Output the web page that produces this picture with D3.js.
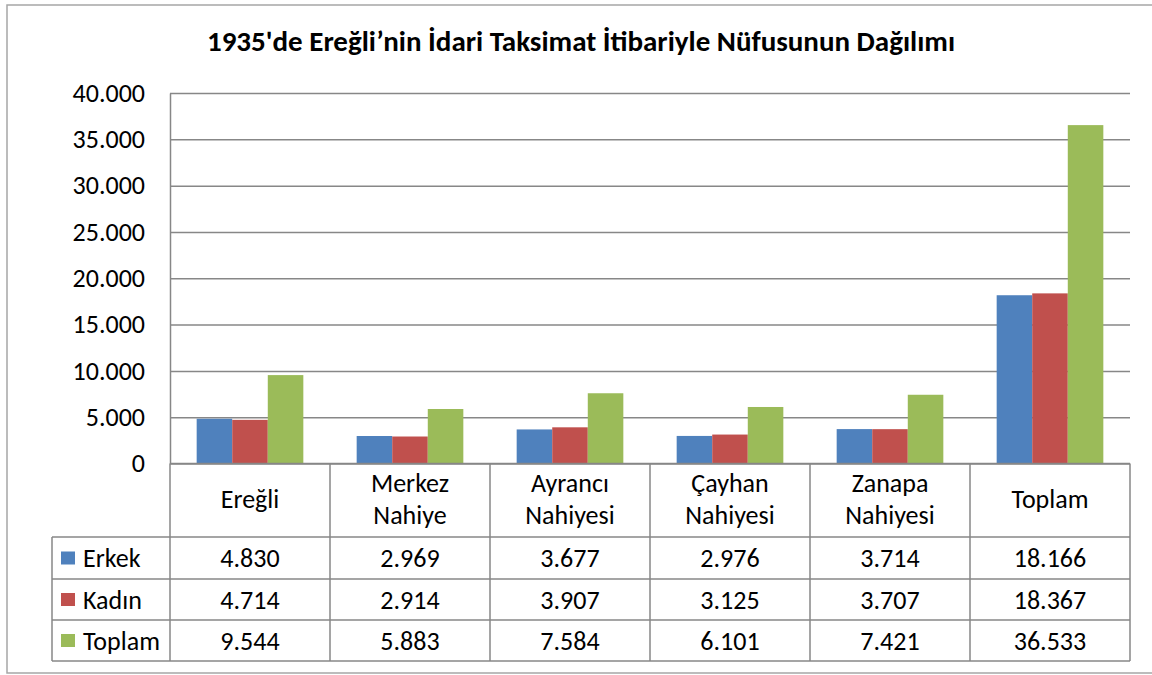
<!DOCTYPE html>
<html><head><meta charset="utf-8">
<script src="https://cdn.jsdelivr.net/npm/d3@7"></script>
<style>body{margin:0;background:#fff}svg{display:block}</style>
</head><body>
<svg id="c" width="1152" height="675"></svg>
<script>
const categories = ["Ereğli", "Merkez\nNahiye", "Ayrancı\nNahiyesi", "Çayhan\nNahiyesi", "Zanapa\nNahiyesi", "Toplam"];
const seriesNames = ["Erkek", "Kadın", "Toplam"];
const erkek = [4830, 2969, 3677, 2976, 3714, 18166];
const kadin = [4714, 2914, 3907, 3125, 3707, 18367];
const toplam = [9544, 5883, 7584, 6101, 7421, 36533];
const yTicks = [0, 5000, 10000, 15000, 20000, 25000, 30000, 35000, 40000];
const title = "1935'de Ereğli’nin İdari Taksimat İtibariyle Nüfusunun Dağılımı";

const colors = ["#4F81BD", "#C0504D", "#9BBB59"];
const seriesVals = [erkek, kadin, toplam];
const FONT = "Carlito, Calibri, 'Open Sans', sans-serif";
const FS = 26;
const loc = d3.formatLocale({decimal: ",", thousands: ".", grouping: [3], currency: ["", ""]});
const fmt = loc.format(",d");

const svg = d3.select("#c");
const L = 170, R = 1130, T = 93, B = 463.5;
const legL = 52;
const rowY = [537, 579, 620, 661];
const gridCol = "#878787";

// outer frame
svg.append("rect").attr("x", 7).attr("y", 5).attr("width", 1160).attr("height", 668)
  .attr("fill", "none").attr("stroke", "#a6a6a6").attr("stroke-width", 1.5);

// title
svg.append("text").attr("x", 581).attr("y", 51).attr("text-anchor", "middle")
  .attr("font-family", FONT).attr("font-weight", "bold").attr("font-size", 29)
  .attr("fill", "#000").text(title);

const x = d3.scaleBand().domain(d3.range(categories.length)).range([L, R]);
const bw = x.bandwidth() / 4.5;
const y = d3.scaleLinear().domain([0, 40000]).range([B, T]);

// grid
const grid = svg.append("g").attr("transform", `translate(${L},0)`)
  .call(d3.axisLeft(y).tickValues(yTicks).tickSize(-(R - L)).tickFormat(""));
grid.select(".domain").remove();
grid.selectAll("line").attr("stroke", gridCol).attr("stroke-width", 1.5);

// y axis
const ax = svg.append("g").attr("transform", `translate(${L},0)`)
  .call(d3.axisLeft(y).tickValues(yTicks).tickSize(0).tickPadding(25).tickFormat(fmt));
ax.select(".domain").attr("stroke", gridCol).attr("stroke-width", 1.5);
ax.selectAll("text").attr("font-family", FONT).attr("font-size", FS).attr("fill", "#000");

// bars
seriesVals.forEach((vals, si) => {
  svg.append("g").selectAll("rect").data(vals).join("rect")
    .attr("x", (d, i) => x(i) + bw * 0.75 + si * bw)
    .attr("y", d => y(d))
    .attr("width", bw)
    .attr("height", d => y(0) - y(d))
    .attr("fill", colors[si]);
});

// data table
const tg = svg.append("g").attr("stroke", gridCol).attr("stroke-width", 1.5);
x.domain().concat([categories.length]).forEach(i => {
  const xx = i < categories.length ? x(i) : R;
  tg.append("line").attr("x1", xx).attr("x2", xx).attr("y1", B).attr("y2", rowY[3]);
});
tg.append("line").attr("x1", legL).attr("x2", legL).attr("y1", rowY[0]).attr("y2", rowY[3]);
rowY.forEach(yy => {
  tg.append("line").attr("x1", legL).attr("x2", R).attr("y1", yy).attr("y2", yy);
});
tg.append("line").attr("x1", L).attr("x2", R).attr("y1", B).attr("y2", B);

// header labels
categories.forEach((c, i) => {
  const lines = c.split("\n");
  const cx = x(i) + x.bandwidth() / 2;
  const t = svg.append("text").attr("text-anchor", "middle")
    .attr("font-family", FONT).attr("font-size", FS).attr("fill", "#000");
  if (lines.length === 1) {
    t.append("tspan").attr("x", cx).attr("y", 508).text(lines[0]);
  } else {
    lines.forEach((ln, k) => t.append("tspan").attr("x", cx).attr("y", 492 + k * 32).text(ln));
  }
});

// rows
seriesVals.forEach((vals, si) => {
  const cy = (rowY[si] + rowY[si + 1]) / 2;
  svg.append("rect").attr("x", 61).attr("y", cy - 6.5).attr("width", 14).attr("height", 13).attr("fill", colors[si]);
  svg.append("text").attr("x", 83).attr("y", cy).attr("dy", "0.35em")
    .attr("font-family", FONT).attr("font-size", FS).attr("fill", "#000").text(seriesNames[si]);
  vals.forEach((v, i) => {
    svg.append("text").attr("x", x(i) + x.bandwidth() / 2).attr("y", cy).attr("dy", "0.35em")
      .attr("text-anchor", "middle").attr("font-family", FONT).attr("font-size", FS).attr("fill", "#000").text(fmt(v));
  });
});
</script>
</body></html>
